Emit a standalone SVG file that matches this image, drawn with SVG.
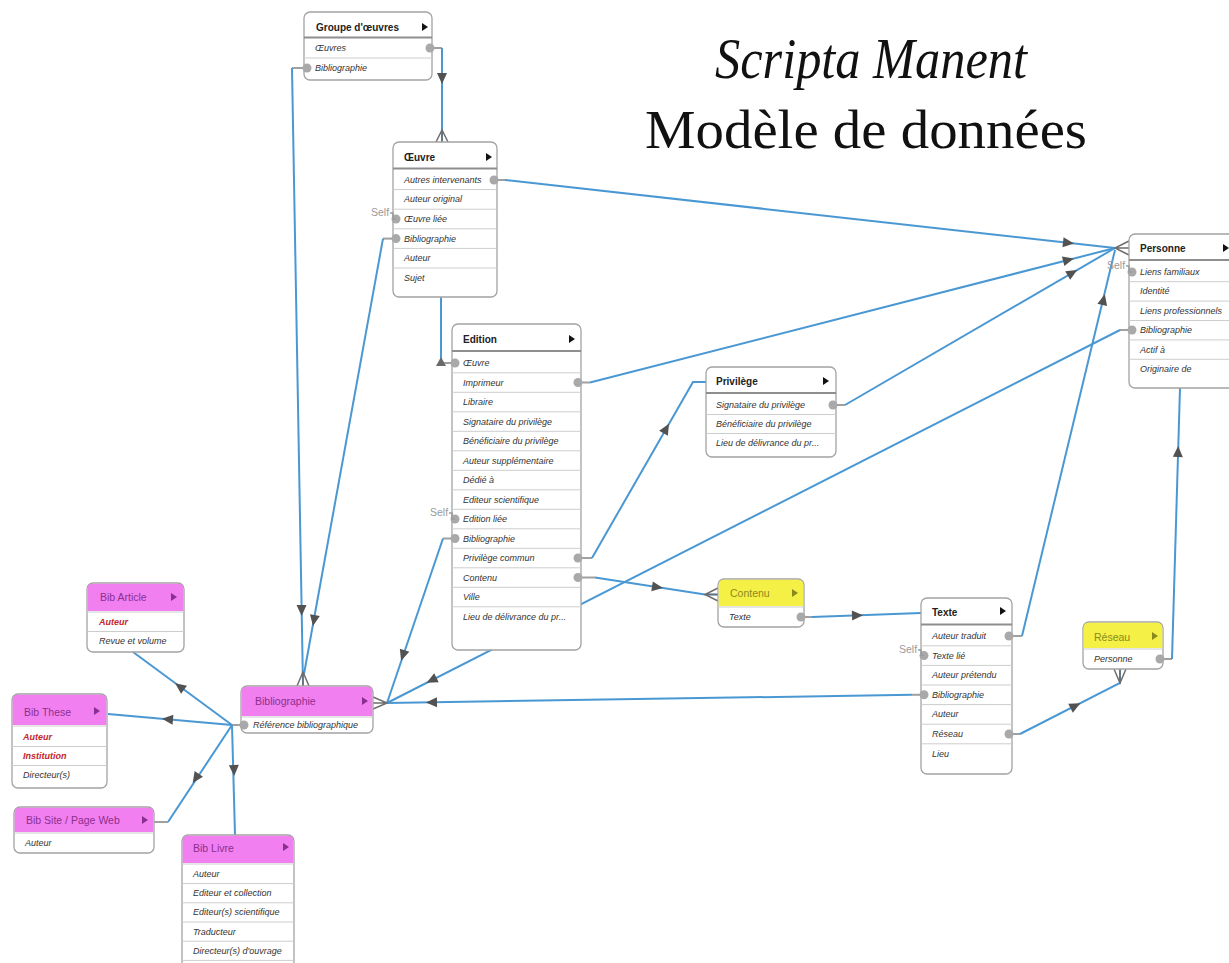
<svg xmlns="http://www.w3.org/2000/svg" xmlns:xlink="http://www.w3.org/1999/xlink" width="1229" height="963" viewBox="0 0 1229 963">
<style>
.box{fill:#fff;stroke:#a3a3a3;stroke-width:1.3}
.hl{stroke:#8e8e8e;stroke-width:2}
.sep{stroke:#cdcdcd;stroke-width:1}
.ht{font-family:"Liberation Sans",Arial,sans-serif;font-weight:bold;font-size:10px;fill:#222}
.hc{font-family:"Liberation Sans",Arial,sans-serif;font-size:10.5px}
.rt{font-family:"Liberation Sans",Arial,sans-serif;font-style:italic;font-size:9px;fill:#333}
.red{fill:#c4262b;font-weight:bold}
.port{fill:#a9a9a9}
.tri{fill:#111}
.conn{fill:none;stroke:#4a98d3;stroke-width:2}
.stub{fill:none;stroke:#a0a0a0;stroke-width:2}
.cf{fill:none;stroke:#6e6e6e;stroke-width:1.5}
.ah{fill:#525252}
.self{font-family:"Liberation Sans",Arial,sans-serif;font-size:10.5px;fill:#9a9a9a}
.selfb{fill:none;stroke:#9a9a9a;stroke-width:1.5}
.mag{fill:#f27ff0}
.yel{fill:#f4f046}
.magt{fill:#8a2f8e}
.yelt{fill:#8a8a1c}
.title{font-family:"Liberation Serif","Times New Roman",serif;fill:#111}
</style>
<defs>
<path id="ah" d="M6,0 L-5,-5 L-5,5 Z"/>
</defs>

<g id="title">
<text class="title" x="871" y="78" font-size="56" font-style="italic" text-anchor="middle" textLength="312" lengthAdjust="spacingAndGlyphs">Scripta Manent</text>
<text class="title" x="866" y="148" font-size="54" text-anchor="middle" textLength="442" lengthAdjust="spacingAndGlyphs">Modèle de données</text>
</g>

<g id="connectors">
<path class="stub" d="M430,48 H442"/>
<path class="conn" d="M442,48 V142"/>
<use href="#ah" class="ah" transform="translate(442,78) rotate(90)"/>
<path class="stub" d="M307,68 H292"/>
<path class="conn" d="M292,68 L303,686"/>
<use href="#ah" class="ah" transform="translate(301.6,610) rotate(89)"/>
<path class="stub" d="M396,238.6 H383"/>
<path class="conn" d="M383,238.6 L304,674"/>
<use href="#ah" class="ah" transform="translate(314,620) rotate(100.3)"/>
<path class="conn" d="M441,297 V363"/>
<path class="stub" d="M441,363 H455"/>
<path class="stub" d="M494,180 H505"/>
<path class="conn" d="M505,180 L1115,248"/>
<use href="#ah" class="ah" transform="translate(1068,242.8) rotate(6.3)"/>
<path class="stub" d="M578,382.5 H590"/>
<path class="conn" d="M590,382.5 L1115,248"/>
<use href="#ah" class="ah" transform="translate(1068,260) rotate(-14.3)"/>
<path class="stub" d="M833,405 H845"/>
<path class="conn" d="M845,405 L1115,248"/>
<use href="#ah" class="ah" transform="translate(1072,273) rotate(-30.2)"/>
<path class="stub" d="M1009,636 H1022"/>
<path class="conn" d="M1022,636 L1115,250"/>
<use href="#ah" class="ah" transform="translate(1103.4,300) rotate(-76.4)"/>
<path class="stub" d="M1132,330 H1120"/>
<path class="conn" d="M1120,330 L387,703"/>
<use href="#ah" class="ah" transform="translate(432,680) rotate(153)"/>
<path class="stub" d="M578,558 H592"/>
<path class="conn" d="M592,558 L693,382 H706"/>
<use href="#ah" class="ah" transform="translate(666,429) rotate(-60.2)"/>
<path class="stub" d="M578,577.5 H595"/>
<path class="conn" d="M595,577.5 L705,594.5 H718"/>
<use href="#ah" class="ah" transform="translate(657,587.1) rotate(8.8)"/>
<path class="stub" d="M455,538.5 H443"/>
<path class="conn" d="M443,538.5 L387,703"/>
<use href="#ah" class="ah" transform="translate(403,655) rotate(108.7)"/>
<path class="stub" d="M801,617 H812"/>
<path class="conn" d="M812,617 L921,613"/>
<use href="#ah" class="ah" transform="translate(857,615.4) rotate(-2.1)"/>
<path class="stub" d="M924,694.8 H912"/>
<path class="conn" d="M912,694.8 L387,703"/>
<use href="#ah" class="ah" transform="translate(432,702.3) rotate(179.1)"/>
<path class="stub" d="M1009,734 H1020"/>
<path class="conn" d="M1020,734 L1120,683 V669"/>
<use href="#ah" class="ah" transform="translate(1075,706) rotate(-27)"/>
<path class="stub" d="M1160,659 H1172"/>
<path class="conn" d="M1172,659 L1180,388"/>
<use href="#ah" class="ah" transform="translate(1178,452) rotate(-88.3)"/>
<path class="stub" d="M244,725 H232"/>
<path class="conn" d="M232,725 L133,652"/>
<use href="#ah" class="ah" transform="translate(180,686.7) rotate(216.4)"/>
<path class="conn" d="M232,725 L108,714"/>
<use href="#ah" class="ah" transform="translate(168,719.3) rotate(185)"/>
<path class="conn" d="M232,725 L168,822"/>
<path class="stub" d="M168,822 H154"/>
<use href="#ah" class="ah" transform="translate(196,778) rotate(124)"/>
<path class="conn" d="M232,725 L235,835"/>
<use href="#ah" class="ah" transform="translate(234,770) rotate(88.4)"/>
<path class="cf" d="M436,142 L442,130 L448,142 M442,130 V142"/>
<path class="cf" d="M297,686 L303,672 L309,686 M303,672 V686"/>
<path class="cf" d="M1129,241 L1115,248 L1129,255 M1115,248 H1129"/>
<path class="cf" d="M718,588 L705,594.5 L718,601 M705,594.5 H718"/>
<path class="cf" d="M373,697 L387,703 L373,709 M387,703 H373"/>
<path class="cf" d="M1114,669 L1120,683 L1126,669 M1120,683 V669"/>
</g>

<g id="n-groupe">
<rect class="box" x="304" y="12" width="128" height="68" rx="6"/>
<line class="hl" x1="304" y1="37.5" x2="432" y2="37.5"/>
<line class="sep" x1="304" y1="58" x2="432" y2="58"/>
<text class="ht" x="316" y="31">Groupe d'œuvres</text>
<path class="tri" d="M422,23 L428,27 L422,31 Z"/>
<text class="rt" x="315" y="51">Œuvres</text>
<text class="rt" x="315" y="71">Bibliographie</text>
<circle class="port" cx="430" cy="48" r="4.5"/>
<circle class="port" cx="307" cy="68" r="4.5"/>
</g>

<g id="n-oeuvre">
<rect class="box" x="393" y="142" width="104" height="155" rx="6"/>
<line class="hl" x1="393" y1="168.5" x2="497" y2="168.5"/>
<line class="sep" x1="393" y1="189.6" x2="497" y2="189.6"/>
<line class="sep" x1="393" y1="209.2" x2="497" y2="209.2"/>
<line class="sep" x1="393" y1="228.8" x2="497" y2="228.8"/>
<line class="sep" x1="393" y1="248.4" x2="497" y2="248.4"/>
<line class="sep" x1="393" y1="268" x2="497" y2="268"/>
<text class="ht" x="404" y="161">Œuvre</text>
<path class="tri" d="M486,153 L492,157 L486,161 Z"/>
<text class="rt" x="404" y="183">Autres intervenants</text>
<text class="rt" x="404" y="202.4">Auteur original</text>
<text class="rt" x="404" y="222">Œuvre liée</text>
<text class="rt" x="404" y="241.6">Bibliographie</text>
<text class="rt" x="404" y="261.2">Auteur</text>
<text class="rt" x="404" y="280.8">Sujet</text>
<circle class="port" cx="494" cy="180" r="4.5"/>
<circle class="port" cx="396" cy="219" r="4.5"/>
<circle class="port" cx="396" cy="238.6" r="4.5"/>
<text class="self" x="371" y="216">Self</text>
<path class="selfb" d="M390,213 H393 V219 H396"/>
</g>

<g id="n-edition">
<rect class="box" x="452" y="324" width="129" height="326" rx="6"/>
<line class="hl" x1="452" y1="351" x2="581" y2="351"/>
<g class="sep">
<line x1="452" y1="372.8" x2="581" y2="372.8"/>
<line x1="452" y1="392.3" x2="581" y2="392.3"/>
<line x1="452" y1="411.8" x2="581" y2="411.8"/>
<line x1="452" y1="431.3" x2="581" y2="431.3"/>
<line x1="452" y1="450.8" x2="581" y2="450.8"/>
<line x1="452" y1="470.3" x2="581" y2="470.3"/>
<line x1="452" y1="489.8" x2="581" y2="489.8"/>
<line x1="452" y1="509.3" x2="581" y2="509.3"/>
<line x1="452" y1="528.8" x2="581" y2="528.8"/>
<line x1="452" y1="548.3" x2="581" y2="548.3"/>
<line x1="452" y1="567.8" x2="581" y2="567.8"/>
<line x1="452" y1="587.3" x2="581" y2="587.3"/>
<line x1="452" y1="606.8" x2="581" y2="606.8"/>
</g>
<text class="ht" x="463" y="343">Edition</text>
<path class="tri" d="M569,335 L575,339 L569,343 Z"/>
<text class="rt" x="463" y="366">Œuvre</text>
<text class="rt" x="463" y="385.5">Imprimeur</text>
<text class="rt" x="463" y="405">Libraire</text>
<text class="rt" x="463" y="424.5">Signataire du privilège</text>
<text class="rt" x="463" y="444">Bénéficiaire du privilège</text>
<text class="rt" x="463" y="463.5">Auteur supplémentaire</text>
<text class="rt" x="463" y="483">Dédié à</text>
<text class="rt" x="463" y="502.5">Editeur scientifique</text>
<text class="rt" x="463" y="522">Edition liée</text>
<text class="rt" x="463" y="541.5">Bibliographie</text>
<text class="rt" x="463" y="561">Privilège commun</text>
<text class="rt" x="463" y="580.5">Contenu</text>
<text class="rt" x="463" y="600">Ville</text>
<text class="rt" x="463" y="619.5">Lieu de délivrance du pr...</text>
<path d="M436,366 L446,366 L441,357 Z" fill="#6a6a6a"/>
<circle class="port" cx="455" cy="363" r="4.5"/>
<circle class="port" cx="578" cy="382.5" r="4.5"/>
<circle class="port" cx="455" cy="519" r="4.5"/>
<circle class="port" cx="455" cy="538.5" r="4.5"/>
<circle class="port" cx="578" cy="558" r="4.5"/>
<circle class="port" cx="578" cy="577.5" r="4.5"/>
<text class="self" x="430" y="516">Self</text>
<path class="selfb" d="M449,513 H452 V519 H455"/>
</g>

<g id="n-privilege">
<rect class="box" x="706" y="367" width="130" height="90" rx="6"/>
<line class="hl" x1="706" y1="393" x2="836" y2="393"/>
<line class="sep" x1="706" y1="414.5" x2="836" y2="414.5"/>
<line class="sep" x1="706" y1="433.5" x2="836" y2="433.5"/>
<text class="ht" x="716" y="385">Privilège</text>
<path class="tri" d="M823,377 L829,381 L823,385 Z"/>
<text class="rt" x="716" y="408">Signataire du privilège</text>
<text class="rt" x="716" y="427">Bénéficiaire du privilège</text>
<text class="rt" x="716" y="446">Lieu de délivrance du pr...</text>
<circle class="port" cx="833" cy="405" r="4.5"/>
</g>

<g id="n-personne">
<rect class="box" x="1129" y="234" width="120" height="154" rx="6"/>
<line class="hl" x1="1129" y1="260" x2="1249" y2="260"/>
<line class="sep" x1="1129" y1="281.7" x2="1249" y2="281.7"/>
<line class="sep" x1="1129" y1="301.1" x2="1249" y2="301.1"/>
<line class="sep" x1="1129" y1="320.5" x2="1249" y2="320.5"/>
<line class="sep" x1="1129" y1="339.9" x2="1249" y2="339.9"/>
<line class="sep" x1="1129" y1="359.3" x2="1249" y2="359.3"/>
<text class="ht" x="1140" y="252">Personne</text>
<path class="tri" d="M1223,244 L1229,248 L1223,252 Z"/>
<text class="rt" x="1140" y="275">Liens familiaux</text>
<text class="rt" x="1140" y="294.4">Identité</text>
<text class="rt" x="1140" y="313.8">Liens professionnels</text>
<text class="rt" x="1140" y="333.2">Bibliographie</text>
<text class="rt" x="1140" y="352.6">Actif à</text>
<text class="rt" x="1140" y="372">Originaire de</text>
<circle class="port" cx="1132" cy="272" r="4.5"/>
<circle class="port" cx="1132" cy="330" r="4.5"/>
<text class="self" x="1107" y="269">Self</text>
<path class="selfb" d="M1126,266 H1129 V272 H1132"/>
</g>

<g id="n-contenu">
<rect class="box" x="718" y="579" width="86" height="48" rx="6"/>
<path class="yel" d="M718.7,606 V585 Q718.7,579.7 724,579.7 H798 Q803.3,579.7 803.3,585 V606 Z"/>
<line class="sep" x1="718" y1="607" x2="804" y2="607" stroke="#b8b8b8"/>
<text class="hc yelt" x="730" y="597">Contenu</text>
<path class="yelt" d="M792,589 L798,593 L792,597 Z"/>
<text class="rt" x="729" y="620">Texte</text>
<circle class="port" cx="801" cy="617" r="4.5"/>
</g>

<g id="n-texte">
<rect class="box" x="921" y="598" width="91" height="176" rx="6"/>
<line class="hl" x1="921" y1="624.5" x2="1012" y2="624.5"/>
<line class="sep" x1="921" y1="645.8" x2="1012" y2="645.8"/>
<line class="sep" x1="921" y1="665.4" x2="1012" y2="665.4"/>
<line class="sep" x1="921" y1="685" x2="1012" y2="685"/>
<line class="sep" x1="921" y1="704.6" x2="1012" y2="704.6"/>
<line class="sep" x1="921" y1="724.2" x2="1012" y2="724.2"/>
<line class="sep" x1="921" y1="743.8" x2="1012" y2="743.8"/>
<text class="ht" x="932" y="616">Texte</text>
<path class="tri" d="M1000,607 L1006,611 L1000,615 Z"/>
<text class="rt" x="932" y="639">Auteur traduit</text>
<text class="rt" x="932" y="658.6">Texte lié</text>
<text class="rt" x="932" y="678.2">Auteur prétendu</text>
<text class="rt" x="932" y="697.8">Bibliographie</text>
<text class="rt" x="932" y="717.4">Auteur</text>
<text class="rt" x="932" y="737">Réseau</text>
<text class="rt" x="932" y="756.6">Lieu</text>
<circle class="port" cx="1009" cy="636" r="4.5"/>
<circle class="port" cx="924" cy="655.6" r="4.5"/>
<circle class="port" cx="924" cy="694.8" r="4.5"/>
<circle class="port" cx="1009" cy="734" r="4.5"/>
<text class="self" x="899" y="653">Self</text>
<path class="selfb" d="M918,650 H921 V655.6 H924"/>
</g>

<g id="n-reseau">
<rect class="box" x="1083" y="622" width="80" height="47" rx="6"/>
<path class="yel" d="M1083.7,648 V628 Q1083.7,622.7 1089,622.7 H1157 Q1162.3,622.7 1162.3,628 V648 Z"/>
<line class="sep" x1="1083" y1="649" x2="1163" y2="649" stroke="#b8b8b8"/>
<text class="hc yelt" x="1094" y="641">Réseau</text>
<path class="yelt" d="M1152,632 L1158,636 L1152,640 Z"/>
<text class="rt" x="1094" y="662">Personne</text>
<circle class="port" cx="1160" cy="659" r="4.5"/>
</g>

<g id="n-bibliographie">
<rect class="box" x="241" y="686" width="132" height="47" rx="6"/>
<path class="mag" d="M241.7,716 V692 Q241.7,686.7 247,686.7 H367 Q372.3,686.7 372.3,692 V716 Z"/>
<line class="sep" x1="241" y1="717" x2="373" y2="717" stroke="#b8b8b8"/>
<text class="hc magt" x="255" y="705">Bibliographie</text>
<path class="magt" d="M362,697 L368,701 L362,705 Z"/>
<text class="rt" x="253" y="728">Référence bibliographique</text>
<circle class="port" cx="244" cy="725" r="4.5"/>
</g>

<g id="n-bibarticle">
<rect class="box" x="87" y="583" width="97" height="69" rx="6"/>
<path class="mag" d="M87.7,611 V589 Q87.7,583.7 93,583.7 H178 Q183.3,583.7 183.3,589 V611 Z"/>
<line class="sep" x1="87" y1="612" x2="184" y2="612" stroke="#b8b8b8"/>
<line class="sep" x1="87" y1="631.5" x2="184" y2="631.5"/>
<text class="hc magt" x="100" y="601">Bib Article</text>
<path class="magt" d="M171,593 L177,597 L171,601 Z"/>
<text class="rt red" x="99" y="625">Auteur</text>
<text class="rt" x="99" y="644">Revue et volume</text>
</g>

<g id="n-bibthese">
<rect class="box" x="12" y="694" width="95" height="94" rx="6"/>
<path class="mag" d="M12.7,725 V700 Q12.7,694.7 18,694.7 H101 Q106.3,694.7 106.3,700 V725 Z"/>
<line class="sep" x1="12" y1="726" x2="107" y2="726" stroke="#b8b8b8"/>
<line class="sep" x1="12" y1="746.5" x2="107" y2="746.5"/>
<line class="sep" x1="12" y1="765.5" x2="107" y2="765.5"/>
<text class="hc magt" x="24" y="716">Bib These</text>
<path class="magt" d="M94,707 L100,711 L94,715 Z"/>
<text class="rt red" x="23" y="740">Auteur</text>
<text class="rt red" x="23" y="759">Institution</text>
<text class="rt" x="23" y="778">Directeur(s)</text>
</g>

<g id="n-bibsite">
<rect class="box" x="14" y="807" width="140" height="46" rx="6"/>
<path class="mag" d="M14.7,832 V813 Q14.7,807.7 20,807.7 H148 Q153.3,807.7 153.3,813 V832 Z"/>
<line class="sep" x1="14" y1="833" x2="154" y2="833" stroke="#b8b8b8"/>
<text class="hc magt" x="26" y="824">Bib Site / Page Web</text>
<path class="magt" d="M142,816 L148,820 L142,824 Z"/>
<text class="rt" x="25" y="846">Auteur</text>
</g>

<g id="n-biblivre">
<rect class="box" x="182" y="835" width="112" height="140" rx="6"/>
<path class="mag" d="M182.7,863 V841 Q182.7,835.7 188,835.7 H288 Q293.3,835.7 293.3,841 V863 Z"/>
<line class="sep" x1="182" y1="864" x2="294" y2="864" stroke="#b8b8b8"/>
<line class="sep" x1="182" y1="883.6" x2="294" y2="883.6"/>
<line class="sep" x1="182" y1="902.8" x2="294" y2="902.8"/>
<line class="sep" x1="182" y1="922" x2="294" y2="922"/>
<line class="sep" x1="182" y1="941.2" x2="294" y2="941.2"/>
<line class="sep" x1="182" y1="960.4" x2="294" y2="960.4"/>
<text class="hc magt" x="193" y="852">Bib Livre</text>
<path class="magt" d="M283,843 L289,847 L283,851 Z"/>
<text class="rt" x="193" y="877">Auteur</text>
<text class="rt" x="193" y="896.2">Editeur et collection</text>
<text class="rt" x="193" y="915.4">Editeur(s) scientifique</text>
<text class="rt" x="193" y="934.6">Traducteur</text>
<text class="rt" x="193" y="953.8">Directeur(s) d'ouvrage</text>
</g>
</svg>
